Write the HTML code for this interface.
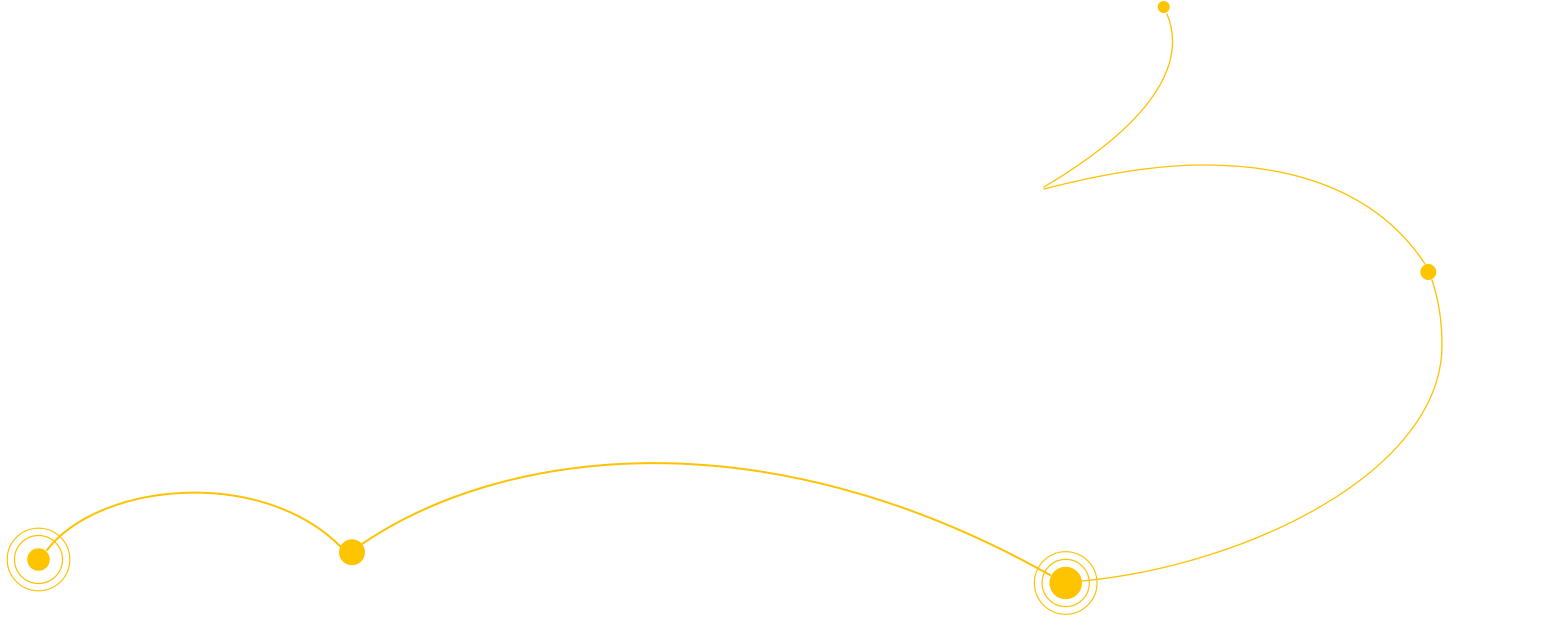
<!DOCTYPE html>
<html>
<head>
<meta charset="utf-8">
<style>
  html, body { margin: 0; padding: 0; background: #ffffff; }
  body { width: 1558px; height: 626px; overflow: hidden; font-family: "Liberation Sans", sans-serif; }
  svg { display: block; }
</style>
</head>
<body>
<svg width="1558" height="626" viewBox="0 0 1558 626" xmlns="http://www.w3.org/2000/svg">
  <g fill="none" stroke="#FDC204" stroke-linecap="round">
    <!-- bottom left curve -->
    <path d="M47,550 C100,482 260,467 340,546" stroke-width="2"/>
    <!-- bottom middle curve -->
    <path d="M362,544 C500,450 760,412 1050,575" stroke-width="2"/>
    <!-- right curve -->
    <path d="M1082,581 C1250,565 1442,470 1442,345 C1442,315 1437,295 1432,280" stroke-width="1.3"/>
    <!-- top arc -->
    <path d="M1044,189 C1110,172 1160,165 1205,165 C1300,165 1380,195 1425,264" stroke-width="1.3"/>
    <!-- top hook -->
    <path d="M1044,187 C1140,130 1190,70 1167,14" stroke-width="1.3"/>
    <!-- rings -->
    <circle cx="38.5" cy="559.5" r="24" stroke-width="1.2"/>
    <circle cx="38.5" cy="559.5" r="31.3" stroke-width="1.2"/>
    <circle cx="1065.7" cy="583" r="23.6" stroke-width="1.2"/>
    <circle cx="1065.7" cy="583" r="31.3" stroke-width="1.2"/>
  </g>
  <g fill="#FEC400">
    <circle cx="38.5" cy="559.5" r="11.3"/>
    <circle cx="352" cy="552.3" r="13"/>
    <circle cx="1065.7" cy="583" r="16.3"/>
    <circle cx="1428.3" cy="272" r="8"/>
    <circle cx="1163.7" cy="7" r="6"/>
  </g>
</svg>
</body>
</html>
